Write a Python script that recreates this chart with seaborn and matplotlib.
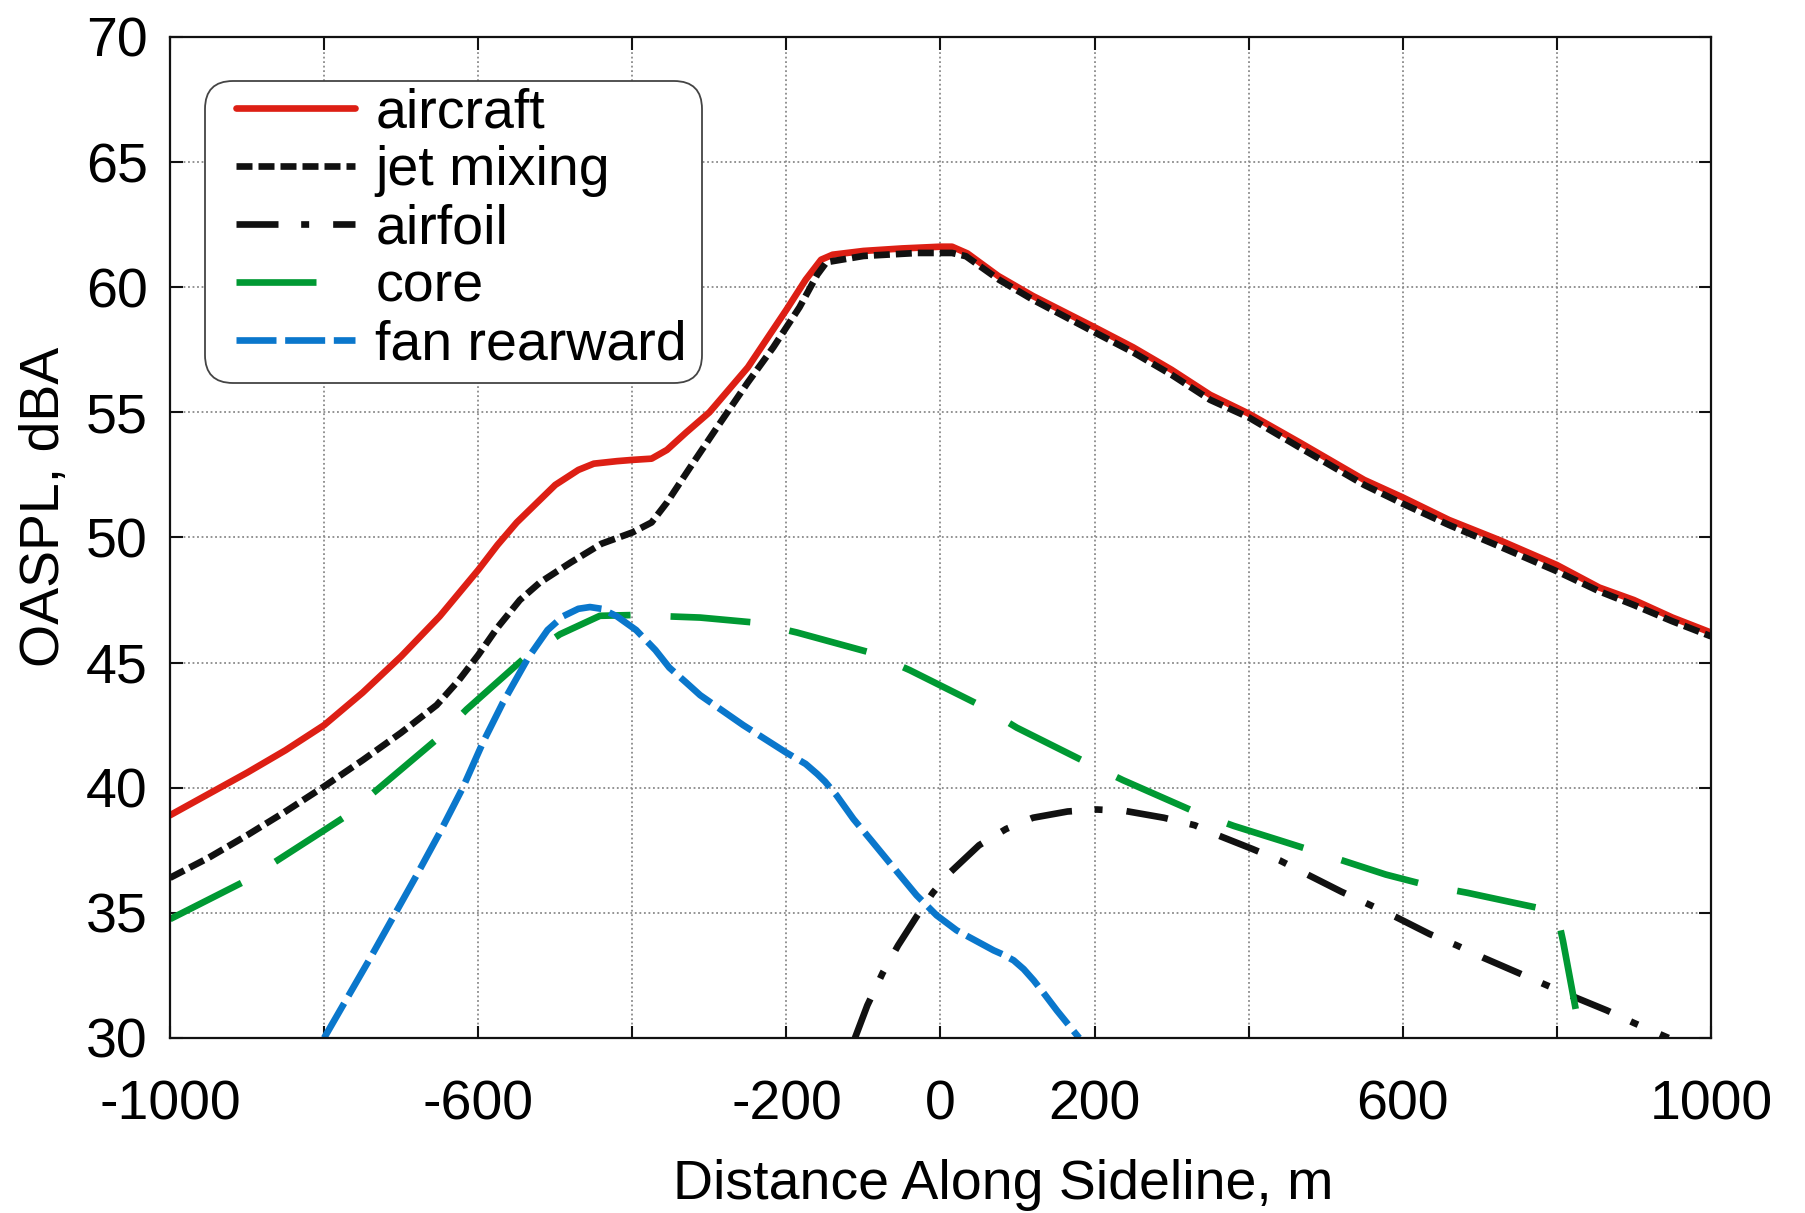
import matplotlib
matplotlib.use('Agg')
import matplotlib.pyplot as plt
from matplotlib.patches import FancyBboxPatch
from matplotlib.transforms import IdentityTransform
import seaborn as sns

aircraft_x = [-1000, -950, -900, -850, -800, -750, -700, -650, -600, -575, -550, -520,
              -500, -470, -450, -420, -400, -375, -355, -330, -300, -250, -200, -175,
              -155, -140, -100, -50, 0, 15, 35, 75, 120, 200, 250, 300, 350, 400, 466,
              550, 600, 660, 725, 800, 855, 900, 950, 1000]
aircraft_y = [38.9, 39.75, 40.6, 41.5, 42.5, 43.8, 45.25, 46.85, 48.7, 49.7, 50.6, 51.5,
              52.1, 52.7, 52.95, 53.05, 53.1, 53.15, 53.5, 54.2, 55.0, 56.8, 59.1, 60.3,
              61.1, 61.3, 61.45, 61.55, 61.62, 61.62, 61.35, 60.45, 59.65, 58.4, 57.6,
              56.7, 55.7, 54.95, 53.8, 52.3, 51.6, 50.7, 49.9, 48.9, 48.0, 47.5, 46.8, 46.2]

jet_x = [-1000, -950, -900, -850, -800, -750, -700, -654, -625, -600, -575, -546, -520,
         -480, -440, -400, -375, -355, -325, -290, -250, -217, -183, -160, -148, -100,
         -30, 15, 33, 76, 120, 200, 250, 300, 350, 400, 466, 550, 600, 660, 725, 800,
         855, 900, 950, 1000]
jet_y = [36.4, 37.2, 38.1, 39.05, 40.05, 41.1, 42.2, 43.3, 44.3, 45.3, 46.4, 47.5, 48.2,
         49.0, 49.75, 50.2, 50.6, 51.4, 52.8, 54.4, 56.2, 57.6, 59.2, 60.5, 61.0, 61.25,
         61.37, 61.37, 61.24, 60.3, 59.5, 58.2, 57.4, 56.5, 55.5, 54.8, 53.6, 52.1,
         51.35, 50.5, 49.65, 48.65, 47.85, 47.3, 46.65, 46.05]

airfoil_x = [-111, -95, -75, -55, -30, -10, 12, 50, 85, 120, 165, 203, 240, 290, 330,
             360, 405, 440, 475, 520, 555, 590, 635, 670, 705, 750, 785, 820, 865, 900, 945]
airfoil_y = [30.0, 31.3, 32.6, 33.7, 34.9, 35.8, 36.6, 37.7, 38.35, 38.8, 39.05, 39.13,
             39.07, 38.8, 38.5, 38.1, 37.55, 37.1, 36.55, 35.85, 35.35, 34.85, 34.15, 33.7,
             33.2, 32.6, 32.13, 31.67, 31.1, 30.6, 30.0]

core_x = [-1000, -907, -862, -800, -775, -732, -654, -615, -542, -494, -442, -400, -312,
          -241, -186, -91, -40, 51, 99, 190, 237, 333, 381, 440, 481, 531, 578, 632, 684,
          734, 786, 800, 808, 827]
core_y = [34.75, 36.2, 37.07, 38.3, 38.8, 39.9, 41.93, 43.13, 45.13, 46.13, 46.87, 46.9,
          46.8, 46.6, 46.2, 45.4, 44.7, 43.3, 42.4, 41.0, 40.3, 39.0, 38.47, 37.9, 37.5,
          37.0, 36.53, 36.1, 35.8, 35.47, 35.13, 35.0, 33.87, 30.73]

fan_x = [-800, -770, -740, -710, -680, -650, -620, -594, -568, -535, -510, -490, -470,
         -455, -440, -420, -395, -370, -352, -330, -312, -256, -200, -175, -160, -150,
         -135, -113, -90, -66, -31, -5, 21, 69, 80, 95, 108, 121, 135, 151, 180]
fan_y = [30.0, 31.6, 33.2, 34.85, 36.5, 38.2, 40.0, 41.8, 43.4, 45.2, 46.3, 46.85, 47.15,
         47.22, 47.15, 46.85, 46.3, 45.5, 44.8, 44.2, 43.7, 42.5, 41.4, 40.95, 40.55,
         40.25, 39.7, 38.75, 37.9, 37.0, 35.7, 34.9, 34.3, 33.5, 33.35, 33.1, 32.75, 32.3,
         31.75, 31.1, 30.0]

x_ticks = [-1000, -800, -600, -400, -200, 0, 200, 400, 600, 800, 1000]
x_tick_labels = ['-1000', '', '-600', '', '-200', '0', '200', '', '600', '', '1000']
y_ticks = [30, 35, 40, 45, 50, 55, 60, 65, 70]

sns.set_style('ticks')
plt.rcParams['font.family'] = ['Liberation Sans', 'DejaVu Sans']
plt.rcParams.update({'text.color': 'black', 'axes.labelcolor': 'black',
                     'xtick.color': 'black', 'ytick.color': 'black'})

fig = plt.figure(figsize=(18.05, 12.13), dpi=100)
ax = fig.add_axes([0.0942, 0.1443, 0.8537, 0.8252])

lw = 4.8
sns.lineplot(x=aircraft_x, y=aircraft_y, ax=ax, color='#dd1f14', lw=lw,
             label='aircraft', sort=False, estimator=None)
sns.lineplot(x=jet_x, y=jet_y, ax=ax, color='#111111', lw=lw,
             linestyle=(0, (2.4, 0.9)), label='jet mixing', sort=False, estimator=None)
sns.lineplot(x=airfoil_x, y=airfoil_y, ax=ax, color='#111111', lw=lw,
             linestyle=(0, (6.3, 3.4, 1.2, 3.6)), label='airfoil', sort=False, estimator=None)
sns.lineplot(x=core_x, y=core_y, ax=ax, color='#009933', lw=lw,
             linestyle=(0, (12, 6)), label='core', sort=False, estimator=None)
sns.lineplot(x=fan_x, y=fan_y, ax=ax, color='#0a77cc', lw=lw,
             linestyle=(0, (6.0, 1.3)), label='fan rearward', sort=False, estimator=None)

ax.set_xlim(-1000, 1000)
ax.set_ylim(30, 70)
ax.set_xticks(x_ticks)
ax.set_xticklabels(x_tick_labels)
ax.set_yticks(y_ticks)
ax.grid(True, color='#8a8a8a', linestyle=(0, (1, 1.5)), lw=1.3)
ax.tick_params(which='both', direction='in', length=9, width=1.5, top=True, right=True,
               labelsize=40, color='#111111')
ax.tick_params(axis='x', pad=30)
ax.tick_params(axis='y', pad=16)
for s in ax.spines.values():
    s.set_linewidth(1.6)
    s.set_color('#111111')

ax.set_xlabel('Distance Along Sideline, m', fontsize=40)
ax.set_ylabel('OASPL, dBA', fontsize=40)
ax.xaxis.set_label_coords(0.541, -0.121)
ax.yaxis.set_label_coords(-0.064, 0.531)

# legend entries without frame, rounded box drawn separately (pixel coords)
leg = ax.legend(loc='upper left', bbox_to_anchor=(0.0428, 0.950), borderaxespad=0,
                fontsize=40, frameon=False, handlelength=2.15,
                handletextpad=0.36, labelspacing=0.11, borderpad=0)
leg.set_zorder(6)
box = FancyBboxPatch((205, 830), 497, 302, boxstyle='round,pad=0,rounding_size=28',
                     transform=IdentityTransform(), facecolor='white',
                     edgecolor='#444444', lw=1.3, zorder=5.5)
ax.add_artist(box)

fig.savefig('out.png', dpi=100)
